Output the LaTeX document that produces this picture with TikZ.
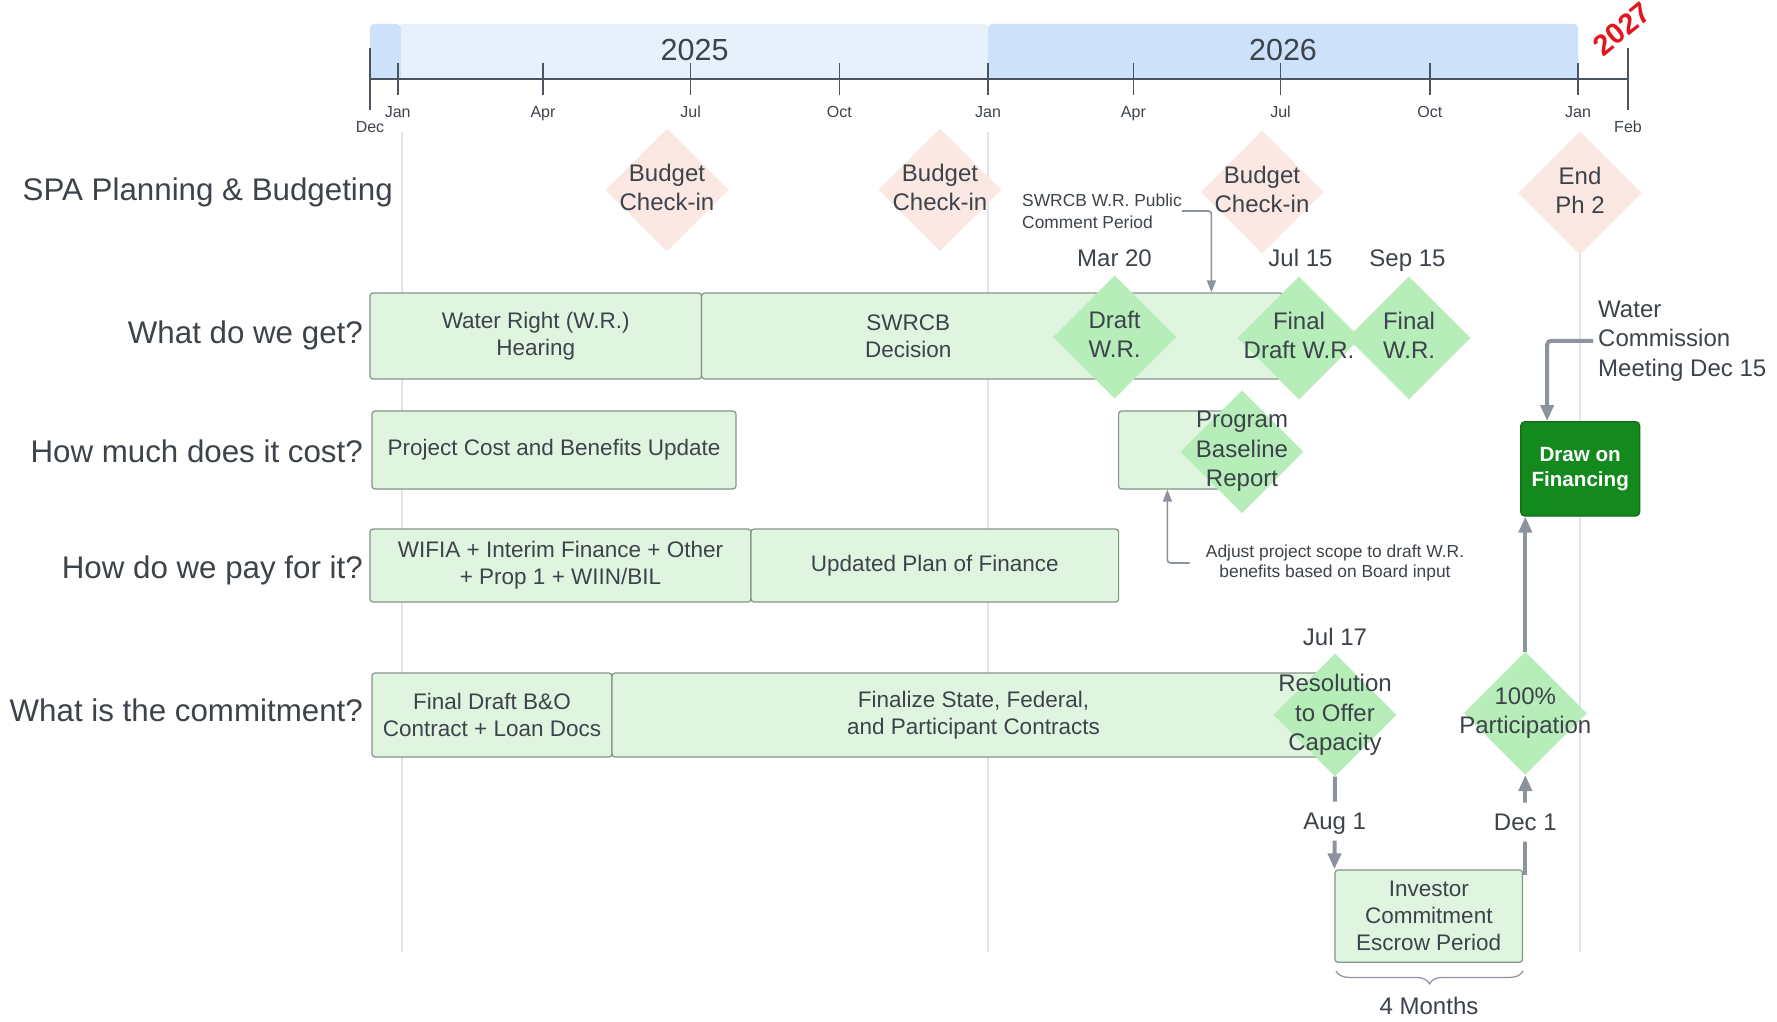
\documentclass[tikz,border=0pt]{standalone}
\usepackage{fontspec}
\setmainfont{Liberation Sans}
\usetikzlibrary{shapes.geometric,arrows.meta,calc,decorations.pathreplacing}
\definecolor{txt}{HTML}{3D434A}
\definecolor{boxfill}{HTML}{E0F5DF}
\definecolor{boxline}{HTML}{86938A}
\definecolor{diagreen}{HTML}{B6EDB8}
\definecolor{diapink}{HTML}{FBE8E3}
\definecolor{bandlight}{HTML}{E7F1FC}
\definecolor{banddark}{HTML}{CEE1FA}
\definecolor{axisc}{HTML}{4A5560}
\definecolor{gridc}{HTML}{E4E4E4}
\definecolor{arrowc}{HTML}{8C939C}
\definecolor{dofill}{HTML}{14891E}
\definecolor{redc}{HTML}{E3141C}
\begin{document}
\begin{tikzpicture}[x=1pt,y=-1pt,
  every node/.style={text=txt},
  rowlbl/.style={anchor=base east, font=\fontsize{31.3}{37}\selectfont, inner sep=0pt},
  gbox/.style={draw=boxline, fill=boxfill, line width=1.2pt, rounded corners=3pt, align=center, font=\fontsize{22.5}{27}\selectfont, inner sep=0pt},
  dia/.style={diamond, minimum width=123pt, minimum height=123pt, inner sep=0pt, draw=none},
  gdia/.style={dia, fill=diagreen},
  pdia/.style={dia, fill=diapink},
  dtext/.style={align=center, font=\fontsize{24}{29.5}\selectfont, inner sep=0pt},
  raised/.style={yshift=2.5pt},
  datelbl/.style={font=\fontsize{24}{29}\selectfont, inner sep=0pt, text height=17.2pt, text depth=0pt},
  smalltxt/.style={font=\fontsize{17.4}{21}\selectfont, inner sep=0pt},
  monthlbl/.style={font=\fontsize{16}{19}\selectfont, inner sep=0pt, text height=11.5pt, text depth=0pt},
  yearlbl/.style={font=\fontsize{30.5}{36}\selectfont, inner sep=0pt, text height=21.8pt, text depth=0pt},
  thinarrow/.style={draw=arrowc, line width=1.6pt, -{Triangle[width=9pt,length=12pt]}, rounded corners=3pt},
  thickarrow/.style={draw=arrowc, line width=4pt, -{Triangle[width=13pt,length=16pt]}, rounded corners=4pt},
]
\useasboundingbox (0,0) rectangle (1777,1022);
\fill[white] (0,0) rectangle (1777,1022);

% grid lines
\draw[gridc, line width=1.2pt] (402,132) -- (402,952);
\draw[gridc, line width=1.2pt] (988,132) -- (988,952);
\draw[gridc, line width=1.2pt] (1580,132) -- (1580,952);

% year bands
\fill[bandlight, rounded corners=4pt] (398,24) rectangle (988,79);
\fill[bandlight] (398,50) rectangle (988,79);
\fill[banddark, rounded corners=4pt] (370,24) rectangle (401,79);
\fill[banddark] (370,50) rectangle (401,79);
\fill[banddark, rounded corners=4pt] (988,24) rectangle (1578,79);
\fill[banddark] (988,50) rectangle (1578,79);
\node[yearlbl] (y25) at (694.6,50) {2025};
\node[yearlbl] (y26) at (1283,50) {2026};
\node[font=\bfseries\fontsize{29}{35}\selectfont, text=redc, rotate=39, inner sep=0pt] (y27) at (1622,29) {2027};

% axis and ticks
\draw[axisc, line width=2pt] (370,79) -- (1628,79);
\foreach \x in {397.7,543,690.6,839.3,988,1133.4,1280.5,1429.8,1578}
  \draw[axisc, line width=1.6pt] (\x,63) -- (\x,95);
\draw[axisc, line width=1.6pt] (370,48) -- (370,110);
\draw[axisc, line width=1.6pt] (1628,48) -- (1628,110);
\foreach \x/\m/\n in {397.7/Jan/ma,543/Apr/mb,690.6/Jul/mc,839.3/Oct/md,988/Jan/me,1133.4/Apr/mf,1280.5/Jul/mg,1429.8/Oct/mh,1578/Jan/mi}
  \node[monthlbl] (\n) at (\x,112) {\m};
\node[monthlbl] (mdec) at (370,127) {Dec};
\node[monthlbl] (mfeb) at (1628,127) {Feb};

% row labels
\node[rowlbl] (r1) at (393,200) {SPA Planning \& Budgeting};
\node[rowlbl] (r2) at (363,343) {What do we get?};
\node[rowlbl] (r3) at (363,462) {How much does it cost?};
\node[rowlbl] (r4) at (363,578) {How do we pay for it?};
\node[rowlbl] (r5) at (363,721) {What is the commitment?};

% SPA planning row
\node[pdia] (bc1) at (667,190) {};
\node[dtext, raised] (bc1t) at (bc1) {Budget\\Check-in};
\node[pdia] (bc2) at (940,190) {};
\node[dtext, raised] (bc2t) at (bc2) {Budget\\Check-in};
\node[pdia] (bc3) at (1262,192) {};
\node[dtext, raised] (bc3t) at (bc3) {Budget\\Check-in};
\node[pdia] (eph) at (1580,193) {};
\node[dtext, raised] (epht) at (eph) {End\\Ph 2};
\node[smalltxt, align=left, anchor=west, font=\fontsize{17.4}{22}\selectfont] (cpt) at (1022,211) {SWRCB W.R. Public\\Comment Period};

% What do we get row
\node[gbox, minimum width=331.5pt, minimum height=86pt] (wrh) at (535.75,336) {Water Right (W.R.)\\Hearing};
\node[gbox, minimum width=413.5pt, minimum height=86pt] (swd) at (908.25,336) {SWRCB\\Decision};
\node[gbox, minimum width=168pt, minimum height=86pt] (wrc) at (1199,336) {};
\node[gdia] (dwr) at (1114.6,337) {};
\node[dtext, raised] (dwrt) at (dwr) {Draft\\W.R.};
\node[gdia] (fdw) at (1299,338) {};
\node[dtext, raised] (fdwt) at (fdw) {Final\\Draft W.R.};
\node[gdia] (fwr) at (1409,338) {};
\node[dtext, raised] (fwrt) at (fwr) {Final\\W.R.};
\node[datelbl] (lmar) at (1114.5,258) {Mar 20};
\node[datelbl] (ljul) at (1300.5,258) {Jul 15};
\node[datelbl] (lsep) at (1407.5,258) {Sep 15};
\draw[thinarrow] (cpt.east) -| ($(wrc.north west)+(97,0)$);

% How much row
\node[gbox, minimum width=364pt, minimum height=78pt] (pcb) at (554,450) {Project Cost and Benefits Update};
\node[gbox, minimum width=123.4pt, minimum height=78pt] (pbrb) at (1180.3,450) {};
\node[gdia] (pbr) at (1242,451.7) {};
\node[dtext] (pbrt) at (pbr) {Program\\Baseline\\Report};
\node[smalltxt, align=center, font=\fontsize{17.4}{20.5}\selectfont] (adj) at (1335,563) {Adjust project scope to draft W.R.\\benefits based on Board input};
\draw[thinarrow, shorten <=16pt] (adj.west) -| ($(pbrb.south west)+(49.4,0)$);

% How do we pay row
\node[gbox, minimum width=381pt, minimum height=73pt] (wif) at (560.5,565.5) {WIFIA + Interim Finance + Other\\+ Prop 1 + WIIN/BIL};
\node[gbox, minimum width=367.6pt, minimum height=73pt] (upf) at (934.8,565.5) {Updated Plan of Finance};

% Commitment row
\node[gbox, minimum width=240pt, minimum height=84pt] (fdb) at (492,715) {Final Draft B\&O\\Contract + Loan Docs};
\node[gbox, minimum width=723pt, minimum height=84pt] (fsf) at (973.5,715) {Finalize State, Federal,\\and Participant Contracts};
\node[gdia] (roc) at (1335,715) {};
\node[dtext] (roct) at (roc) {Resolution\\to Offer\\Capacity};
\node[datelbl] (ljul17) at (1335,637) {Jul 17};
\node[gdia] (par) at (1525.3,713.3) {};
\node[dtext] (part) at (par) {100\%\\Participation};
\node[gbox, minimum width=187.5pt, minimum height=92.3pt] (ice) at (1428.75,916.15) {Investor\\Commitment\\Escrow Period};

% Draw on financing
\node[draw=dofill!80!black, fill=dofill, rounded corners=4pt, line width=1.2pt, minimum width=119pt, minimum height=94.3pt, inner sep=0pt, align=center, text=white, font=\bfseries\fontsize{20.6}{25}\selectfont] (dof) at (1580.2,468.85) {Draw on\\Financing};
\node[dtext, anchor=west, align=left] (wcm) at (1598,340.8) {Water\\Commission\\Meeting Dec 15};

% connectors
\draw[thickarrow, shorten <=5pt] (wcm.west) -| ($(dof.north west)+(27,0)$);
\draw[thickarrow] (roc.south) -- node[pos=0.48, datelbl, fill=white, minimum height=39pt] (aug) {Aug 1} (ice.north west);
\draw[thickarrow] ($(ice.north east -| par.south)+(0,6)$) -- node[pos=0.53, datelbl, fill=white, minimum height=39pt] (dec1) {Dec 1} (par.south);
\draw[thickarrow] (par.north) -- (par.north |- dof.south);

% brace
\draw[draw=arrowc, line width=1.2pt, decorate, decoration={brace, mirror, amplitude=13pt}] ($(ice.south west)+(1.5,8)$) -- ($(ice.south east)+(0,8)$);
\node[datelbl] (mo) at (1429,1006) {4 Months};
\end{tikzpicture}
\end{document}
